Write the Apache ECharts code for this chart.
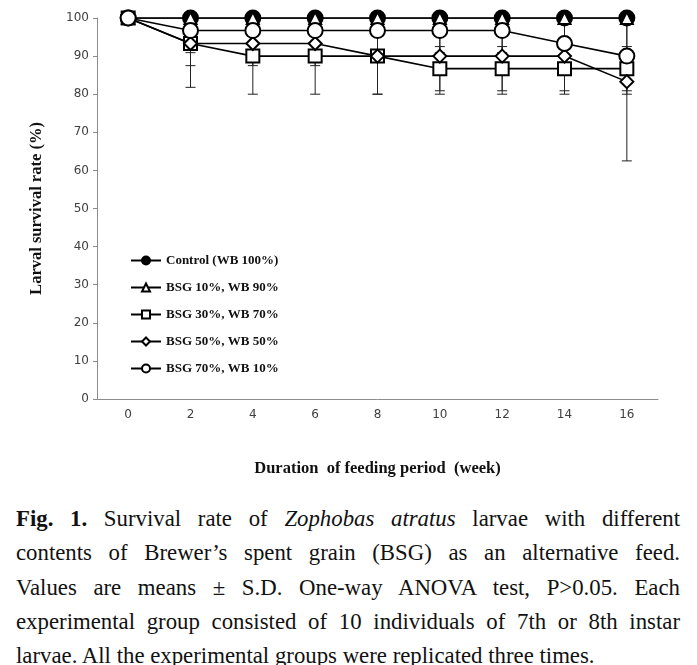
<!DOCTYPE html>
<html>
<head>
<meta charset="utf-8">
<script src="https://cdn.jsdelivr.net/npm/echarts@6/dist/echarts.min.js"></script>
<style>
  html, body { margin: 0; padding: 0; background: #fff; }
  #chart { width: 697px; height: 490px; }
  .cap { position: absolute; left: 16px; width: 664px; top: 502px;
         font-family: "Liberation Serif", serif; font-size: 22.8px; line-height: 34.3px; color: #111; }
  .cap div { text-align: justify; text-align-last: justify; white-space: nowrap; }
  .cap div.last { text-align-last: left; }
</style>
</head>
<body>
<div id="chart"></div>
<div class="cap">
  <div><b>Fig. 1.</b> Survival rate of <i>Zophobas atratus</i> larvae with different</div>
  <div>contents of Brewer’s spent grain (BSG) as an alternative feed.</div>
  <div>Values are means ± S.D. One-way ANOVA test, P&gt;0.05. Each</div>
  <div>experimental group consisted of 10 individuals of 7th or 8th instar</div>
  <div class="last">larvae. All the experimental groups were replicated three times.</div>
</div>
<script>
const weeks = ['0', '2', '4', '6', '8', '10', '12', '14', '16'];
const names = ['Control (WB 100%)', 'BSG 10%, WB 90%', 'BSG 30%, WB 70%', 'BSG 50%, WB 50%', 'BSG 70%, WB 10%'];
const control = [100, 100, 100, 100, 100, 100, 100, 100, 100];
const bsg10 = [100, 100, 100, 100, 100, 100, 100, 100, 100];
const bsg30 = [100, 93.3, 90, 90, 90, 86.7, 86.7, 86.7, 86.7];
const bsg50 = [100, 93.3, 93.3, 93.3, 90, 90, 90, 90, 83.3];
const bsg70 = [100, 96.7, 96.7, 96.7, 96.7, 96.7, 96.7, 93.3, 90];
const sdControl = [0, 0, 0, 0, 0, 0, 0, 0, 0];
const sd10 = [0, 0, 0, 0, 0, 0, 0, 0, 0];
const sd30 = [0, 11.5, 10, 10, 10, 5.8, 5.8, 5.8, 5.8];
const sd50 = [0, 5.8, 5.8, 5.8, 10, 10, 10, 10, 20.8];
const sd70 = [0, 5.8, 5.8, 5.8, 5.8, 5.8, 5.8, 5.8, 10];
const yTicks = {min: 0, max: 100, interval: 10};

const groups = [
    {name: names[0], data: control, sd: sdControl, symbol: 'circle', size: 15, fill: '#000'},
    {name: names[1], data: bsg10, sd: sd10, symbol: 'triangle', size: 12, fill: '#fff'},
    {name: names[2], data: bsg30, sd: sd30, symbol: 'rect', size: 13, fill: '#fff'},
    {name: names[3], data: bsg50, sd: sd50, symbol: 'diamond', size: 13, fill: '#fff'},
    {name: names[4], data: bsg70, sd: sd70, symbol: 'circle', size: 15, fill: '#fff'},
];

const chart = echarts.init(document.getElementById('chart'));

const errorSeries = groups.map(g => ({
    type: 'custom',
    silent: true,
    z: 1,
    data: g.data.map((v, i) => [i, Math.max(0, v - g.sd[i]), Math.min(100, v + g.sd[i])])
        .filter((d, i) => g.sd[i] > 0),
    encode: {x: 0, y: [1, 2]},
    renderItem(params, api) {
        const x = api.value(0);
        const lo = api.coord([x, api.value(1)]);
        const hi = api.coord([x, api.value(2)]);
        const hw = 5;
        const style = {stroke: '#222', lineWidth: 1};
        return {
            type: 'group',
            children: [
                {type: 'line', shape: {x1: lo[0], y1: lo[1], x2: hi[0], y2: hi[1]}, style},
                {type: 'line', shape: {x1: lo[0] - hw, y1: lo[1], x2: lo[0] + hw, y2: lo[1]}, style},
                {type: 'line', shape: {x1: hi[0] - hw, y1: hi[1], x2: hi[0] + hw, y2: hi[1]}, style},
            ]
        };
    }
}));

const lineSeries = groups.map((g, k) => ({
    name: g.name,
    type: 'line',
    data: g.data,
    symbol: g.symbol,
    symbolSize: g.size,
    z: 2 + k,
    lineStyle: {color: '#000', width: 1.6},
    itemStyle: {color: g.fill, borderColor: '#000', borderWidth: 2},
}));

chart.setOption({
    animation: false,
    grid: {left: 97, right: 39, top: 18, bottom: 91},
    legend: {
        data: names,
        orient: 'vertical',
        left: 125,
        top: 249,
        itemGap: 14,
        itemWidth: 30,
        itemHeight: 10,
        textStyle: {fontFamily: 'Liberation Serif', fontWeight: 'bold', fontSize: 13, color: '#111'},
    },
    xAxis: {
        type: 'category',
        data: weeks,
        boundaryGap: true,
        name: 'Duration  of feeding period  (week)',
        nameLocation: 'middle',
        nameGap: 61,
        nameTextStyle: {fontFamily: 'Liberation Serif', fontWeight: 'bold', fontSize: 16.5, color: '#111'},
        axisLine: {lineStyle: {color: '#8c8c8c', width: 1}},
        axisTick: {alignWithLabel: true, length: 4, lineStyle: {color: '#8c8c8c'}},
        axisLabel: {fontFamily: 'DejaVu Sans', fontSize: 12, color: '#404040', margin: 10},
        splitLine: {show: false},
    },
    yAxis: {
        type: 'value',
        min: yTicks.min,
        max: yTicks.max,
        interval: yTicks.interval,
        name: 'Larval survival rate (%)',
        nameLocation: 'middle',
        nameGap: 52,
        nameTextStyle: {fontFamily: 'Liberation Serif', fontWeight: 'bold', fontSize: 16.5, color: '#111'},
        axisLine: {show: true, lineStyle: {color: '#8c8c8c', width: 1}},
        axisTick: {show: true, length: 4, lineStyle: {color: '#8c8c8c'}},
        axisLabel: {fontFamily: 'DejaVu Sans', fontSize: 12, color: '#404040', margin: 8},
        splitLine: {show: false},
    },
    series: [...errorSeries, ...lineSeries],
});
</script>
</body>
</html>
